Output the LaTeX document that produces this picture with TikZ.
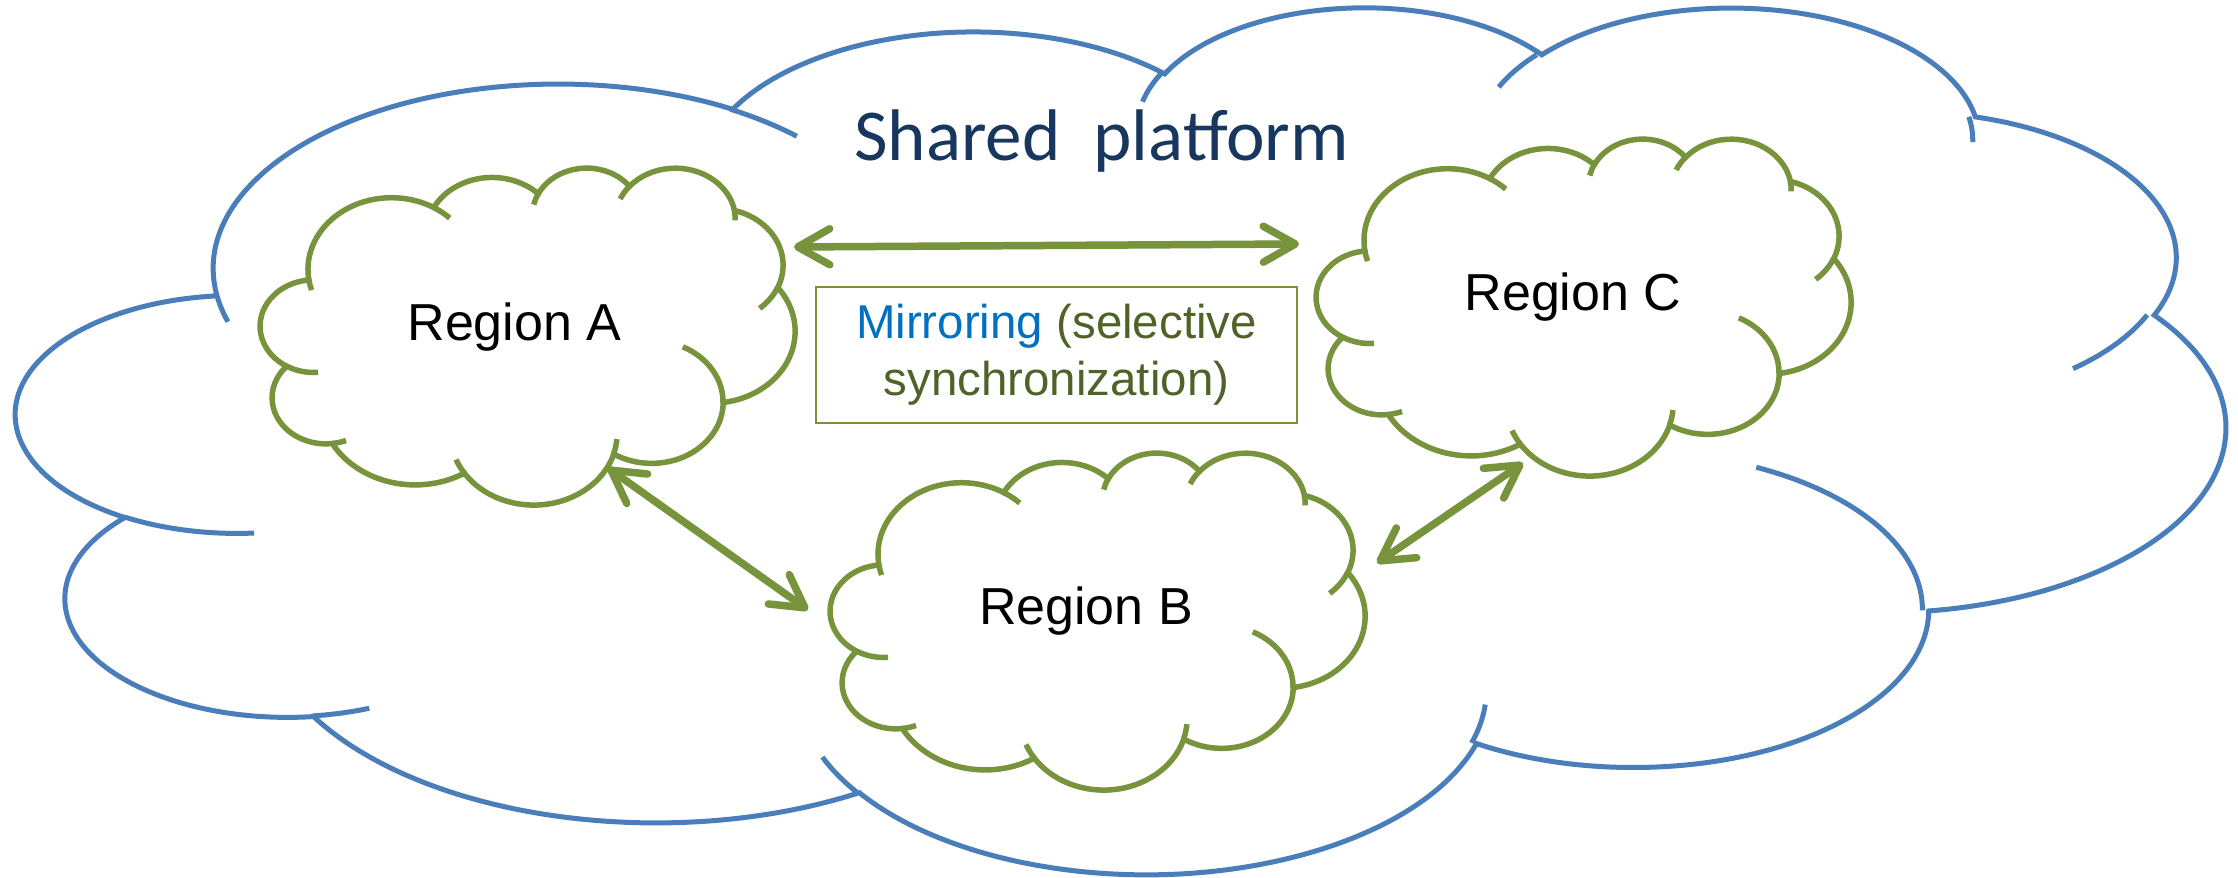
\documentclass[tikz,border=0pt]{standalone}
\usepackage{fontspec}
\setmainfont{Liberation Sans}
\newfontfamily\titlefont{Carlito}
\usetikzlibrary{arrows.meta}
\definecolor{platformblue}{RGB}{74,126,187}
\definecolor{regiongreen}{RGB}{119,147,60}
\definecolor{titlenavy}{RGB}{23,55,94}
\definecolor{mirrorblue}{RGB}{0,112,192}
\definecolor{textgreen}{RGB}{79,98,40}
\tikzset{
  pics/cloud/.style={code={
    \draw[fill=white] (3.9,14.37)
      arc[start angle=172.25, delta angle=128.11, x radius=6.753, y radius=9.19] coordinate (k1)
      arc[start angle=-152.02, delta angle=106.59, x radius=5.333, y radius=7.267] coordinate (k2)
      arc[start angle=-153.49, delta angle=116.16, x radius=4.365, y radius=5.945] coordinate (k3)
      arc[start angle=-139.69, delta angle=129.48, x radius=4.857, y radius=6.595] coordinate (k4)
      arc[start angle=-74.77, delta angle=97.98, x radius=5.333, y radius=7.273] coordinate (k5)
      arc[start angle=-37.54, delta angle=119.40, x radius=6.775, y radius=9.22] coordinate (k6)
      arc[start angle=0.46, delta angle=121.52, x radius=5.785, y radius=7.867] coordinate (k7)
      arc[start angle=16.85, delta angle=129.40, x radius=6.752, y radius=9.215] coordinate (k8)
      arc[start angle=58.98, delta angle=91.21, x radius=7.72, y radius=10.543] coordinate (k9)
      arc[start angle=83.31, delta angle=139.80, x radius=4.36, y radius=5.918] coordinate (k10)
      arc[start angle=120.36, delta angle=143.75, x radius=4.345, y radius=5.945] -- cycle;
    \draw (3.9,14.37) arc[start angle=172.25, delta angle=-9.06, x radius=6.753, y radius=9.19]
      (k1) arc[start angle=-59.64, delta angle=13.90, x radius=6.753, y radius=9.19]
      (k2) arc[start angle=-153.49, delta angle=-14.23, x radius=4.365, y radius=5.945]
      (k3) arc[start angle=-139.69, delta angle=-16.59, x radius=4.857, y radius=6.595]
      (k4) arc[start angle=-10.21, delta angle=11.03, x radius=4.857, y radius=6.595]
      (k5) arc[start angle=23.21, delta angle=26.45, x radius=5.333, y radius=7.273]
      (k6) arc[start angle=0.46, delta angle=-64.48, x radius=5.785, y radius=7.867]
      (k7) arc[start angle=16.85, delta angle=-12.11, x radius=6.752, y radius=9.215]
      (k8) arc[start angle=146.25, delta angle=12.23, x radius=6.752, y radius=9.215]
      (k9) arc[start angle=83.31, delta angle=-15.07, x radius=4.36, y radius=5.918]
      (k10) arc[start angle=120.36, delta angle=-34.82, x radius=4.345, y radius=5.945];
  }}
}

\begin{document}
\begin{tikzpicture}[x=0.1mm, y=-0.1mm,
    platform/.style={color=platformblue, line width=0.5mm},
    region/.style={color=regiongreen, line width=0.55mm},
    regiontext/.style={anchor=base, font=\fontsize{14.8}{17}\selectfont},
    sync/.style={regiongreen, line width=0.75mm,
      {Straight Barb[length=3.2mm, width=3.6mm, round]}-{Straight Barb[length=3.2mm, width=3.6mm, round]}},
    mirrorbox/.style={draw=regiongreen, line width=0.2mm, text=textgreen, align=center,
      minimum width=48.1mm, minimum height=13.6mm, inner sep=0pt,
      font=\fontsize{13.5}{16.2}\selectfont}]
  \useasboundingbox (0,0) rectangle (2238,878);
  \pic[platform, xscale=51.11, yscale=20.06] at (17,5) {cloud};
  \pic[region, xscale=12.37, yscale=7.797] at (260.5,167) {cloud};
  \pic[region, xscale=12.37, yscale=7.797] at (830.5,452) {cloud};
  \pic[region, xscale=12.37, yscale=7.797] at (1316.5,138) {cloud};
  \node[anchor=base, text=titlenavy, font=\titlefont\fontsize{20.8}{25}\selectfont] (platform) at (1101.5,161) {Shared\ \ platform};
  \node[regiontext] (regA) at (514.5,341) {Region A};
  \node[regiontext] (regB) at (1086,625) {Region B};
  \node[regiontext] (regC) at (1573,311) {Region C};
  \node[mirrorbox] (mirror) at (1056.5,355) {\textcolor{mirrorblue}{Mirroring} (selective\\synchronization)};
  \coordinate (a-right) at (794,247);
  \coordinate (c-left) at (1299,244);
  \coordinate (a-bottom) at (608,468);
  \coordinate (b-left) at (808,610);
  \coordinate (b-right) at (1377,563);
  \coordinate (c-bottom) at (1523,463);
  \draw[sync] (a-right) -- (c-left);
  \draw[sync] (a-bottom) -- (b-left);
  \draw[sync] (b-right) -- (c-bottom);
\end{tikzpicture}
\end{document}
